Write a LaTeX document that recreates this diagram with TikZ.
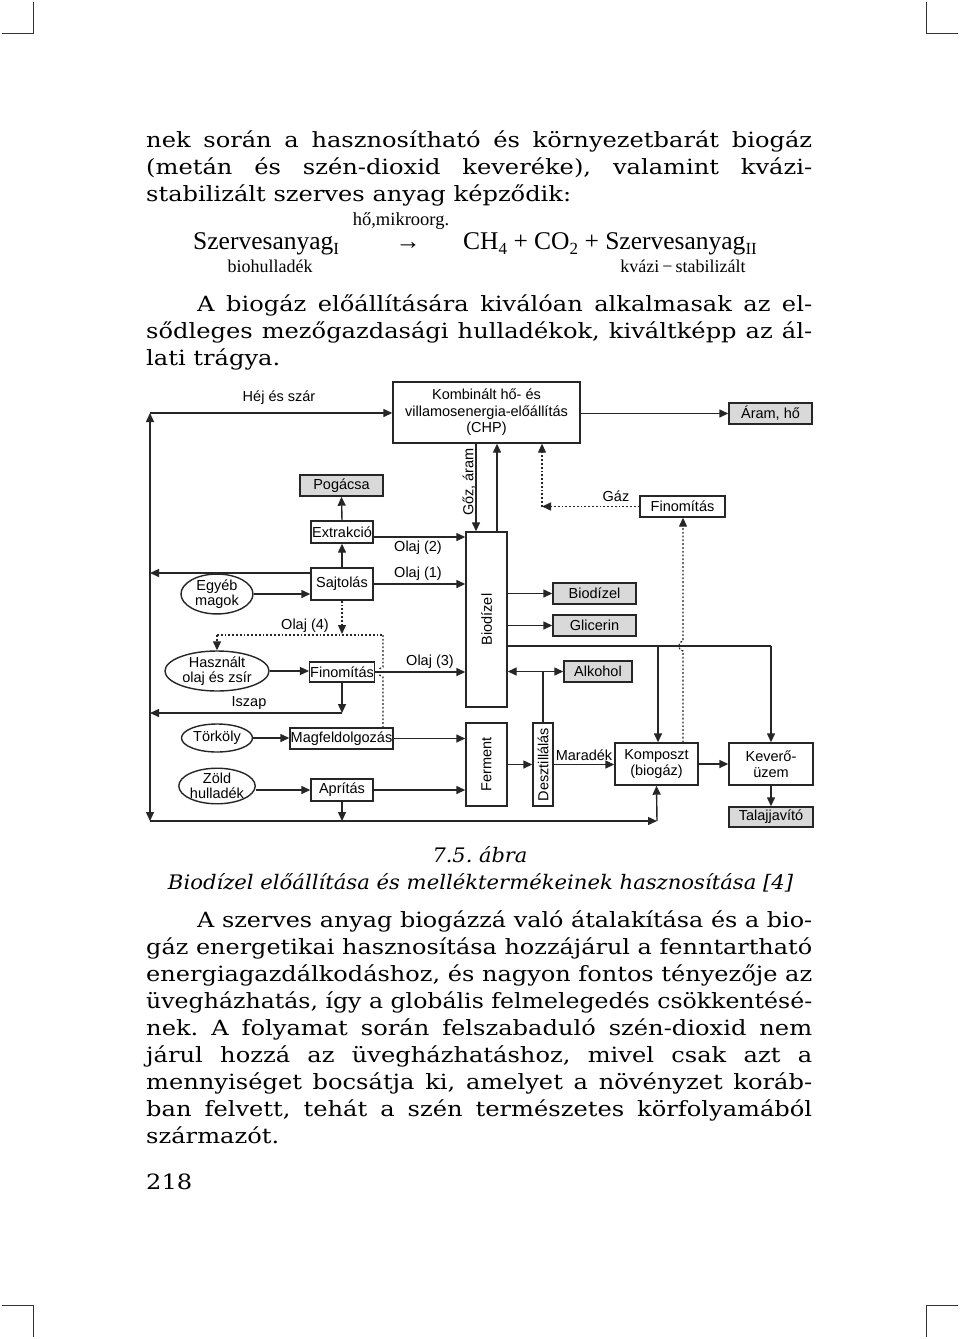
\documentclass[tikz,border=0pt]{standalone}
\usepackage{graphicx}
\usepackage{fontspec}
\setmainfont{DejaVu Serif}[FakeStretch=1.15]
\setsansfont{Liberation Sans}
\newfontfamily\formfont{Liberation Serif}
\usetikzlibrary{arrows.meta,shapes.geometric}
\frenchspacing
\newcommand\jl[2]{\sbox0{#2}\ifdim\wd0>#1\relax\resizebox{#1}{\height}{#2}\else\makebox[#1][s]{#2}\fi}
\newcommand\fsub[1]{\raisebox{-0.22em}{\fontsize{17}{17}\selectfont #1}}
\tikzset{
 txt/.style={anchor=base west, inner sep=0pt, font=\fontsize{21}{27}\selectfont},
 box/.style={draw=black!85, line width=1.4pt, fill=white, inner sep=0.5pt, font=\sffamily\fontsize{14.5}{16.5}\selectfont, align=center},
 gbox/.style={box, fill=black!15},
 ell/.style={ellipse, draw=black!85, line width=1.4pt, fill=white, inner sep=0pt, font=\sffamily\fontsize{14.5}{14.5}\selectfont, align=center},
 lab/.style={font=\sffamily\fontsize{14.5}{16}\selectfont, inner sep=0pt},
 conn/.style={line width=1.4pt, draw=black!85},
 arr/.style={conn, -{Triangle[length=9pt,width=8pt]}},
 darr/.style={conn, {Triangle[length=9pt,width=8pt]}-{Triangle[length=9pt,width=8pt]}},
 dot/.style={conn, line width=1.3pt, dash pattern=on 1.8pt off 2pt},
 dotarr/.style={dot, -{Triangle[length=9pt,width=8pt]}},
 cropmark/.style={line width=1pt, draw=black!80},
}
\begin{document}
\begin{tikzpicture}[x=1pt,y=-1pt]
\useasboundingbox (0,0) rectangle (960,1339);
\fill[white] (0,0) rectangle (960,1339);

% crop marks
\draw[cropmark] (33,2) -- (33,33) -- (2,33);
\draw[cropmark] (926,2) -- (926,33) -- (958,33);
\draw[cropmark] (2,1305) -- (33,1305) -- (33,1337);
\draw[cropmark] (958,1305) -- (926,1305) -- (926,1337);

% text above
\node[txt] (p1) at (146,147) {\jl{666pt}{nek során a hasznosítható és környezetbarát biogáz}};
\node[txt] (p2) at (146,174) {\jl{666pt}{(metán és szén-dioxid keveréke), valamint kvázi-}};
\node[txt] (p3) at (146,201) {stabilizált szerves anyag képződik:};

% formula
\node[anchor=base, inner sep=0pt, font=\formfont\fontsize{18.5}{18.5}\selectfont] (fh) at (401,225) {hő,mikroorg.};
\node[anchor=base west, inner sep=0pt, font=\formfont\fontsize{25.5}{25.5}\selectfont] (f1) at (193,249) {Szervesanyag\fsub{I}};
\node[anchor=base, inner sep=0pt, font=\formfont\fontsize{25}{25}\selectfont] (fa) at (408,249) {→};
\node[anchor=base west, inner sep=0pt, font=\formfont\fontsize{25.5}{25.5}\selectfont] (f2) at (463,249) {CH\fsub{4} + CO\fsub{2} + Szervesanyag\fsub{II}};
\node[anchor=base, inner sep=0pt, font=\formfont\fontsize{18}{18}\selectfont] (fb) at (270,272) {biohulladék};
\node[anchor=base, inner sep=0pt, font=\formfont\fontsize{18}{18}\selectfont] (fk) at (683,272) {kvázi\,−\,stabilizált};

\node[txt] (q1) at (197,311) {\jl{615pt}{A biogáz előállítására kiválóan alkalmasak az el-}};
\node[txt] (q2) at (146,338) {\jl{666pt}{sődleges mezőgazdasági hulladékok, kiváltképp az ál-}};
\node[txt] (q3) at (146,365) {lati trágya.};

% ===== diagram =====
\node[box, minimum width=187pt, minimum height=61pt] (chp) at (486.5,412.5) {Kombinált hő- és\\villamosenergia-előállítás\\(CHP)};
\node[gbox, minimum width=83pt, minimum height=21pt] (aram) at (770.5,413.5) {Áram, hő};
\node[gbox, minimum width=83pt, minimum height=21pt] (poga) at (341.5,485.5) {Pogácsa};
\node[box, minimum width=62pt, minimum height=22pt] (extr) at (342,532) {Extrakció};
\node[box, minimum width=62pt, minimum height=32pt] (sajt) at (342,584) {Sajtolás};
\node[ell, minimum width=72pt, minimum height=30pt, font=\sffamily\fontsize{14.5}{13}\selectfont] (egyeb) at (217,594) {Egyéb\\magok};
\node[ell, minimum width=104pt, minimum height=40pt] (hasz) at (217,671) {Használt\\olaj és zsír};
\node[box, minimum width=62pt, minimum height=20pt] (finl) at (342,672) {Finomítás};
\node[ell, minimum width=71pt, minimum height=28pt] (tork) at (217,738) {Törköly};
\node[box, minimum width=103pt, minimum height=21pt] (magf) at (341.5,738.5) {Magfeldolgozás};
\node[ell, minimum width=71pt, minimum height=35pt] (zold) at (217,786) {Zöld\\hulladék};
\node[box, minimum width=62pt, minimum height=22pt] (apri) at (342,790) {Aprítás};
\node[box, minimum width=41pt, minimum height=175pt] (bio) at (486.5,619.5) {};
\node[lab, rotate=90] (biot) at (bio.center) {Biodízel};
\node[box, minimum width=41pt, minimum height=83pt] (ferm) at (486.5,764.5) {};
\node[lab, rotate=90] (fermt) at (ferm.center) {Ferment};
\node[box, minimum width=20pt, minimum height=83pt] (deszt) at (543,764.5) {};
\node[lab, rotate=90] (desztt) at (deszt.center) {Desztillálás};
\node[gbox, minimum width=83pt, minimum height=21pt] (bdz) at (594.5,593.5) {Biodízel};
\node[gbox, minimum width=83pt, minimum height=21pt] (glic) at (594.5,625.5) {Glicerin};
\node[gbox, minimum width=68pt, minimum height=21pt] (alk) at (598,671.5) {Alkohol};
\node[box, minimum width=85pt, minimum height=21pt] (finr) at (682.5,506.5) {Finomítás};
\node[box, minimum width=83pt, minimum height=42pt] (komp) at (656.5,764) {Komposzt\\(biogáz)};
\node[box, minimum width=84pt, minimum height=42pt] (kev) at (771,764) {Keverő-\\üzem};
\node[gbox, minimum width=84pt, minimum height=20pt] (talaj) at (771,817) {Talajjavító};

% coordinates
\coordinate (TL) at (150,413);
\coordinate (BL) at (150,821);
\coordinate (BR) at (657,821);
\coordinate (isz) at (342,713);
\coordinate (d0) at (342,634);
\coordinate (dl) at (217,635);
\coordinate (dr) at (383,635);
\coordinate (gx) at (476,0);
\coordinate (ux) at (497,0);
\coordinate (gzx) at (542,0);
\coordinate (kx) at (683,0);
\coordinate (by) at (0,646);
\coordinate (b1) at (658,646);
\coordinate (b2) at (771,646);

% connectors
\draw[darr] (TL) -- (BL);
\draw[arr] (TL) -- (TL -| chp.west);
\draw[arr] (BL) -- (BR);
\draw[arr] (BR) -- (komp.south);
\draw[arr] (chp.east |- aram.west) -- (aram.west);
\draw[arr] ([yshift=11pt]sajt.west) -- ([yshift=11pt]sajt.west -| TL);
\draw[arr] (egyeb.east) -- (egyeb.east -| sajt.west);
\draw[arr] (sajt.north) -- (extr.south);
\draw[arr] (extr.north) -- (poga.south);
\draw[arr] ([yshift=-5pt]extr.east) -- ([yshift=-5pt]extr.east -| bio.west);
\draw[arr] (sajt.east) -- (sajt.east -| bio.west);
\draw[arr] (finl.east) -- (finl.east -| bio.west);
\draw[arr] (hasz.east) -- (hasz.east -| finl.west);
\draw[arr] (finl.south) -- (isz);
\draw[arr] (isz) -- (isz -| TL);
\draw[arr] (tork.east) -- (tork.east -| magf.west);
\draw[arr] (magf.east) -- (magf.east -| ferm.west);
\draw[arr] (zold.east |- apri.west) -- (apri.west);
\draw[arr] (apri.east) -- (apri.east -| ferm.west);
\draw[arr] (apri.south) -- (apri.south |- BL);
% dotted oil (4)
\draw[dotarr] (sajt.south) -- (d0);
\draw[dot] (dl) -- (dr);
\draw[dotarr] (dl) -- (hasz.north);
\draw[dot] (dr) -- (383,667) .. controls (377.5,667) and (377.5,677) .. (383,677) -- (dr |- magf.north);
% CHP links
\draw[arr] (gx |- chp.south) -- (gx |- bio.north);
\draw[arr] (ux |- bio.north) -- (ux |- chp.south);
\draw[dotarr] (finr.west) -- (gzx |- finr.west);
\draw[dotarr] (gzx |- finr.west) -- (gzx |- chp.south);
\draw[dotarr] (kx |- komp.north) -- (683,651) .. controls (677.5,651) and (677.5,641) .. (683,641) -- (kx |- finr.south);
% products
\draw[arr] (bio.east |- bdz.west) -- (bdz.west);
\draw[arr] (bio.east |- glic.west) -- (glic.west);
\draw[conn] (bio.east |- by) -- (b2);
\draw[arr] (b1) -- (b1 |- komp.north);
\draw[arr] (b2) -- (kev.north);
\draw[darr] (bio.east |- alk.west) -- (alk.west);
\draw[conn] (deszt.north) -- (deszt.north |- alk.west);
\draw[arr] (ferm.east) -- (deszt.west);
\draw[arr] (deszt.east) -- (deszt.east -| komp.west);
\draw[arr] (komp.east) -- (kev.west);
\draw[arr] (kev.south) -- (talaj.north);

% labels
\node[lab] (lhej) at (279,398) {Héj és szár};
\node[lab] (lo2) at (418,548) {Olaj (2)};
\node[lab] (lo1) at (418,574) {Olaj (1)};
\node[lab] (lo4) at (305,626) {Olaj (4)};
\node[lab] (lo3) at (430,662) {Olaj (3)};
\node[lab] (lisz) at (249,703) {Iszap};
\node[lab] (lgaz) at (616,496) {Gáz};
\node[lab] (lmar) at (584,755) {Maradék};
\node[lab, rotate=90] (lgoz) at (469,482) {Gőz, áram};

% caption
\node[anchor=base, inner sep=0pt, font=\itshape\fontsize{20}{24}\selectfont] (c1) at (480,862) {\resizebox{95pt}{\height}{7.5. ábra}};
\node[anchor=base, inner sep=0pt, font=\itshape\fontsize{20}{24}\selectfont] (c2) at (480.5,889) {\resizebox{625pt}{\height}{Biodízel előállítása és melléktermékeinek hasznosítása [4]}};

% text below
\node[txt] (r1) at (197,927) {\jl{615pt}{A szerves anyag biogázzá való átalakítása és a bio-}};
\node[txt] (r2) at (146,954) {\jl{666pt}{gáz energetikai hasznosítása hozzájárul a fenntartható}};
\node[txt] (r3) at (146,981) {\jl{666pt}{energiagazdálkodáshoz, és nagyon fontos tényezője az}};
\node[txt] (r4) at (146,1008) {\jl{666pt}{üvegházhatás, így a globális felmelegedés csökkentésé-}};
\node[txt] (r5) at (146,1035) {\jl{666pt}{nek. A folyamat során felszabaduló szén-dioxid nem}};
\node[txt] (r6) at (146,1062) {\jl{666pt}{járul hozzá az üvegházhatáshoz, mivel csak azt a}};
\node[txt] (r7) at (146,1089) {\jl{666pt}{mennyiséget bocsátja ki, amelyet a növényzet koráb-}};
\node[txt] (r8) at (146,1116) {\jl{666pt}{ban felvett, tehát a szén természetes körfolyamából}};
\node[txt] (r9) at (146,1143) {származót.};
\node[txt] (pn) at (146,1189) {218};
\end{tikzpicture}
\end{document}
